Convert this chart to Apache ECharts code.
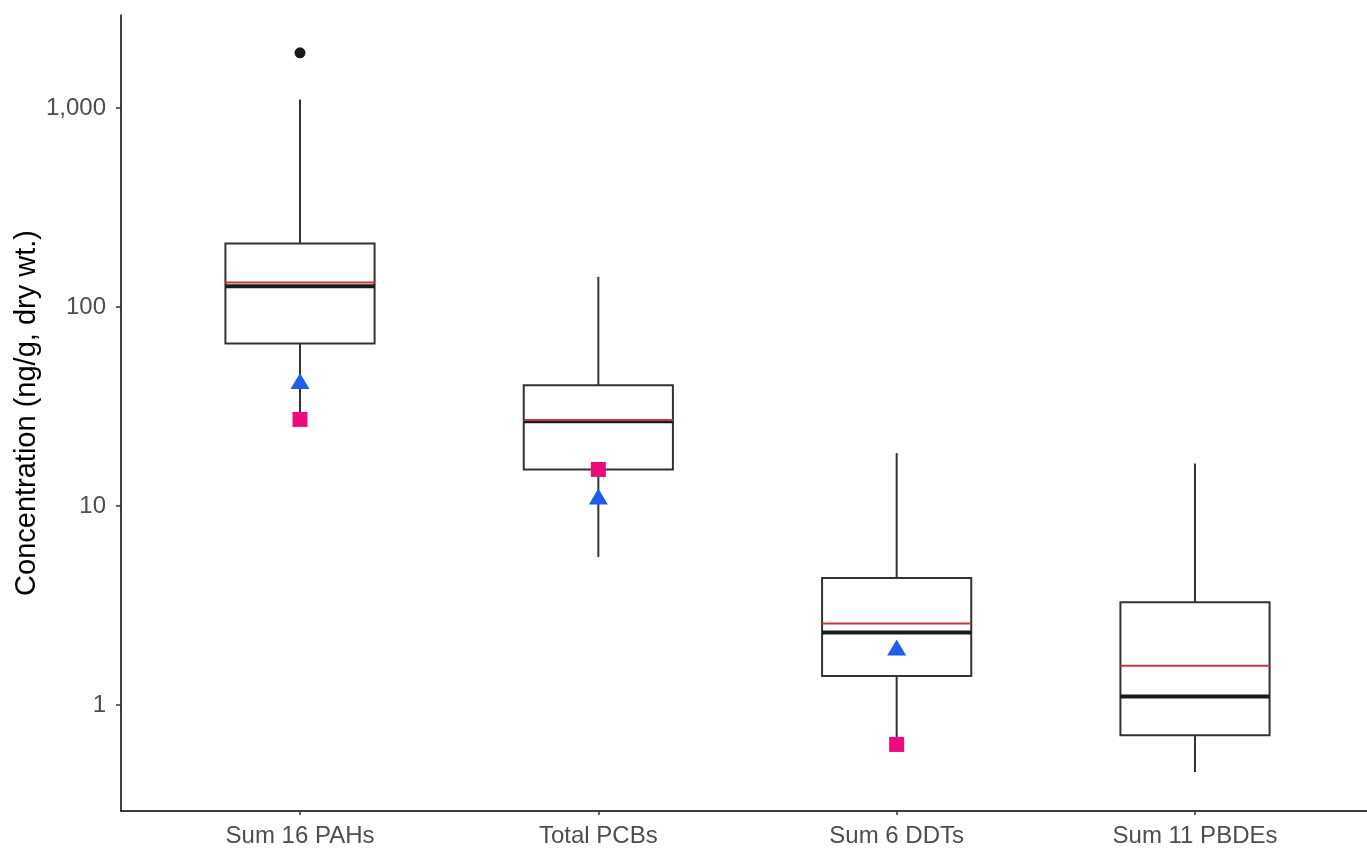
<!DOCTYPE html>
<html>
<head>
<meta charset="utf-8">
<title>Concentration by contaminant group</title>
<script src="https://cdn.jsdelivr.net/npm/echarts@6/dist/echarts.min.js"></script>
<style>
  html, body { margin: 0; padding: 0; background: #ffffff; }
  #chart { width: 1367px; height: 848px; }
</style>
</head>
<body>
<div id="chart"></div>
<script>
// Contaminant groups on the x axis
const categories = ['Sum 16 PAHs', 'Total PCBs', 'Sum 6 DDTs', 'Sum 11 PBDEs'];

// Box-and-whisker statistics (ng/g, dry wt.)
const whiskerLow  = [28,    5.56,  0.65,  0.462];
const q1Values    = [65.7,  15.3,  1.40,  0.707];
const medianValues = [127.6, 26.7, 2.32,  1.106];
const q3Values    = [209,   40.5,  4.36,  3.29];
const whiskerHigh = [1106,  142,   18.5,  16.4];

// Group means (red lines)
const meanValues = [133, 27.1, 2.57, 1.58];

// Outliers as [category index, value]
const outlierPoints = [[0, 1897]];

// Reference markers per group (null = none)
const triangleValues = [42.6, 11.2, 1.95, null];
const squareValues   = [27.3, 15.3, 0.635, null];

// y-axis tick values
const yTickValues = [1, 10, 100, 1000];

const boxHalfWidth = 0.25;

const boxData = categories.map((c, i) => [
  i + 1, whiskerLow[i], q1Values[i], medianValues[i], q3Values[i], whiskerHigh[i], meanValues[i]
]);

function renderBox(params, api) {
  const x = api.value(0);
  const lo = api.value(1), q1 = api.value(2), med = api.value(3),
        q3 = api.value(4), hi = api.value(5), mean = api.value(6);
  const pL = api.coord([x - boxHalfWidth, q1]);
  const pR = api.coord([x + boxHalfWidth, q3]);
  const cx = api.coord([x, q1])[0];
  const yLo = api.coord([x, lo])[1];
  const yQ1 = pL[1];
  const yQ3 = pR[1];
  const yHi = api.coord([x, hi])[1];
  const yMed = api.coord([x, med])[1];
  const yMean = api.coord([x, mean])[1];
  const stroke = '#333333';
  return {
    type: 'group',
    children: [
      { type: 'line', shape: { x1: cx, y1: yQ3, x2: cx, y2: yHi },
        style: { stroke: stroke, lineWidth: 2 } },
      { type: 'line', shape: { x1: cx, y1: yQ1, x2: cx, y2: yLo },
        style: { stroke: stroke, lineWidth: 2 } },
      { type: 'rect', shape: { x: pL[0], y: yQ3, width: pR[0] - pL[0], height: yQ1 - yQ3 },
        style: { fill: '#ffffff', stroke: stroke, lineWidth: 2 } },
      { type: 'line', shape: { x1: pL[0], y1: yMed, x2: pR[0], y2: yMed },
        style: { stroke: '#1a1a1a', lineWidth: 4 } },
      { type: 'line', shape: { x1: pL[0], y1: yMean, x2: pR[0], y2: yMean },
        style: { stroke: '#c8373a', lineWidth: 2 } }
    ]
  };
}

const triangleData = triangleValues.map((v, i) => v == null ? null : [i + 1, v]).filter(Boolean);
const squareData = squareValues.map((v, i) => v == null ? null : [i + 1, v]).filter(Boolean);
const outlierData = outlierPoints.map(p => [p[0] + 1, p[1]]);

const chart = echarts.init(document.getElementById('chart'), null, { renderer: 'canvas' });

const fontFamily = '"Liberation Sans", Arial, Helvetica, sans-serif';

chart.setOption({
  animation: false,
  backgroundColor: '#ffffff',
  grid: {
    left: 121, top: 15, width: 1253, height: 796,
    containLabel: false, outerBoundsMode: 'none'
  },
  xAxis: {
    type: 'value',
    min: 0.4, max: 4.6,
    splitLine: { show: false },
    axisLine: { show: true, onZero: false, lineStyle: { color: '#000000', width: 1.5 } },
    axisTick: { show: true, length: 4, customValues: [1, 2, 3, 4],
                lineStyle: { color: '#333333', width: 1.5 } },
    axisLabel: {
      show: true, customValues: [1, 2, 3, 4], margin: 13,
      color: '#4d4d4d', fontSize: 24, fontFamily: fontFamily,
      formatter: v => categories[Math.round(v) - 1] || ''
    }
  },
  yAxis: {
    type: 'log',
    logBase: 10,
    min: 0.294, max: 2940,
    name: 'Concentration (ng/g, dry wt.)',
    nameLocation: 'middle',
    nameGap: 80,
    nameMoveOverlap: false,
    nameTextStyle: { color: '#000000', fontSize: 29, fontFamily: fontFamily },
    splitLine: { show: false },
    axisLine: { show: true, onZero: false, lineStyle: { color: '#000000', width: 1.5 } },
    axisTick: { show: true, length: 5, customValues: yTickValues,
                lineStyle: { color: '#333333', width: 1.5 } },
    axisLabel: {
      show: true, customValues: yTickValues, margin: 15,
      color: '#4d4d4d', fontSize: 24, fontFamily: fontFamily,
      padding: [4, 0, 0, 0],
      formatter: v => Number(v).toLocaleString('en-US')
    }
  },
  series: [
    {
      type: 'custom',
      renderItem: renderBox,
      encode: { x: 0, y: [1, 2, 3, 4, 5, 6] },
      data: boxData,
      z: 2
    },
    {
      type: 'scatter',
      symbol: 'circle',
      symbolSize: 11,
      itemStyle: { color: '#1a1a1a', opacity: 1 },
      data: outlierData,
      z: 3
    },
    {
      type: 'scatter',
      symbol: 'triangle',
      symbolSize: [19, 16],
      itemStyle: { color: '#1f5cf0', opacity: 1 },
      data: triangleData,
      z: 4
    },
    {
      type: 'scatter',
      symbol: 'rect',
      symbolSize: 15,
      itemStyle: { color: '#ec0a7c', opacity: 1 },
      data: squareData,
      z: 5
    }
  ]
});
</script>
</body>
</html>
